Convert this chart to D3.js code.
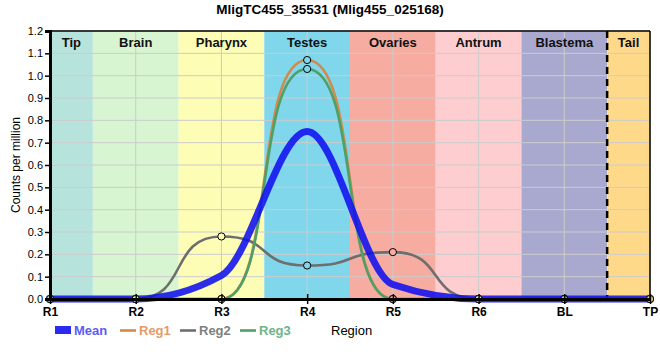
<!DOCTYPE html>
<html><head><meta charset="utf-8">
<script src="https://cdn.jsdelivr.net/npm/d3@7"></script>
<style>body{margin:0;background:#fff}svg{display:block}</style>
</head><body>
<svg id="c" width="660" height="360"></svg>
<script>
const categories = ["R1","R2","R3","R4","R5","R6","BL","TP"];
const bandNames = ["Tip","Brain","Pharynx","Testes","Ovaries","Antrum","Blastema","Tail"];
const bandColors = ["#b7e3dd","#d7f5d0","#fdfdb6","#80d6ea","#f6aca0","#fecdcf","#a9a9cf","#fed98a"];
const yTicks = [0,0.1,0.2,0.3,0.4,0.5,0.6,0.7,0.8,0.9,1.0,1.1,1.2];
const mean = [0,0,0.105,0.75,0.065,0,0,0];
const reg1 = [0,0,0,1.07,0,0,0,0];
const reg2 = [0,0,0.28,0.15,0.21,0,0,0];
const reg3 = [0,0,0,1.03,0,0,0,0];

const seriesDefs = [
  {name:"Reg1", values:reg1, color:"#cf8a4c", text:"#e59a68"},
  {name:"Reg2", values:reg2, color:"#6e6e6e", text:"#7f7f7f"},
  {name:"Reg3", values:reg3, color:"#4f9f68", text:"#6db487"}
];

const W=660,H=360, L=50, R=650, T=31, B=299;
const svg = d3.select("#c");
const x = d3.scalePoint().domain(categories).range([L,R]);
const y = d3.scaleLinear().domain([0,1.2]).range([B,T]);
const step = x.step();

// custom eased curve (horizontal handles)
function EaseCurve(ctx,k){this._ctx=ctx;this._k=k;}
EaseCurve.prototype = {
  areaStart(){this._line=0;}, areaEnd(){this._line=NaN;},
  lineStart(){this._p=0;}, lineEnd(){},
  point(px,py){
    px=+px;py=+py;
    if(!this._p){this._ctx.moveTo(px,py);this._p=1;}
    else{const dx=px-this._x0,k=this._k;
      this._ctx.bezierCurveTo(this._x0+k*dx,this._y0,px-k*dx,py,px,py);}
    this._x0=px;this._y0=py;
  }
};
const curveEase = k => ctx => new EaseCurve(ctx,k);

// bands
const g = svg.append("g");
bandNames.forEach((n,i)=>{
  const cx = x(categories[i]);
  const x0 = Math.max(L,cx-step/2), x1 = Math.min(R,cx+step/2);
  g.append("rect").attr("x",x0).attr("y",T).attr("width",x1-x0).attr("height",B-T).attr("fill",bandColors[i]);
});
// grid
yTicks.forEach(v=>{
  g.append("line").attr("x1",L).attr("x2",R).attr("y1",y(v)).attr("y2",y(v)).attr("stroke","#cccccc").attr("stroke-width",1);
});
categories.forEach(c=>{
  g.append("line").attr("x1",x(c)).attr("x2",x(c)).attr("y1",T).attr("y2",B).attr("stroke","#cccccc").attr("stroke-width",1);
});
// band labels
bandNames.forEach((n,i)=>{
  const cx = x(categories[i]);
  const x0 = Math.max(L,cx-step/2), x1 = Math.min(R,cx+step/2);
  g.append("text").attr("x",(x0+x1)/2).attr("y",47).attr("text-anchor","middle")
   .attr("font-family","Liberation Sans, Arial, sans-serif").attr("font-weight","bold").attr("font-size",13).attr("fill","#111").text(n);
});
// dashed separator between Blastema and Tail
const sepX = x("BL")+step/2;
g.append("line").attr("x1",sepX).attr("x2",sepX).attr("y1",T).attr("y2",B).attr("stroke","#000").attr("stroke-width",2.5).attr("stroke-dasharray","7,5");

// series lines
const lineE = d3.line().x((d,i)=>x(categories[i])).y(d=>y(d)).curve(curveEase(0.62));
seriesDefs.forEach(s=>{
  svg.append("path").attr("d",lineE(s.values)).attr("fill","none").attr("stroke",s.color).attr("stroke-width",2.6);
});
const lineM = d3.line().x((d,i)=>x(categories[i])).y(d=>y(d)).curve(d3.curveMonotoneX);
svg.append("path").attr("d",lineM(mean)).attr("fill","none").attr("stroke","#1010f0").attr("stroke-opacity",0.88).attr("stroke-width",7).attr("stroke-linecap","round");

// markers
seriesDefs.forEach(s=>{
  s.values.forEach((v,i)=>{
    svg.append("circle").attr("cx",x(categories[i])).attr("cy",y(v)).attr("r",3.6)
      .attr("fill",bandColors[i]).attr("stroke","#000").attr("stroke-width",1);
  });
});

// frame & axes
svg.append("line").attr("x1",L).attr("x2",R).attr("y1",T).attr("y2",T).attr("stroke","#000").attr("stroke-width",1.5);
svg.append("line").attr("x1",R).attr("x2",R).attr("y1",T).attr("y2",B).attr("stroke","#000").attr("stroke-width",1.5);

const yAxis = d3.axisLeft(y).tickValues(yTicks).tickFormat(d3.format(".1f")).tickSize(5).tickPadding(2);
const ya = svg.append("g").attr("transform",`translate(${L},0)`).call(yAxis);
ya.select(".domain").attr("stroke-width",3);
ya.selectAll("text").attr("font-family","Liberation Sans, Arial, sans-serif").attr("font-size",11).attr("fill","#000");
ya.selectAll(".tick line").attr("stroke-width",1.5);

const xAxis = d3.axisBottom(x).tickSize(5).tickPadding(3).tickSizeOuter(0);
const xa = svg.append("g").attr("transform",`translate(0,${B})`).call(xAxis);
xa.select(".domain").attr("stroke-width",3);
xa.selectAll("text").attr("font-family","Liberation Sans, Arial, sans-serif").attr("font-weight","bold").attr("font-size",12).attr("fill","#000");
xa.selectAll(".tick line").attr("stroke-width",1.5).attr("y1",-5);

// title
svg.append("text").attr("x",330).attr("y",14).attr("text-anchor","middle")
  .attr("font-family","Liberation Sans Narrow, Arial Narrow, sans-serif").attr("font-weight","bold").attr("font-size",13.5).attr("fill","#000")
  .text("MligTC455_35531 (Mlig455_025168)");
// y label
svg.append("text").attr("transform","translate(20,165) rotate(-90)").attr("text-anchor","middle")
  .attr("font-family","Liberation Sans, Arial, sans-serif").attr("font-size",12).attr("fill","#000").text("Counts per million");

// legend
const lg = svg.append("g").attr("font-family","Liberation Sans, Arial, sans-serif").attr("font-size",13).attr("font-weight","bold");
lg.append("rect").attr("x",55).attr("y",326).attr("width",16).attr("height",8).attr("fill","#2a2af0");
lg.append("text").attr("x",74).attr("y",335).attr("fill","#5b5bf5").text("Mean");
seriesDefs.forEach((s,i)=>{
  const lx = 120 + i*60;
  lg.append("line").attr("x1",lx).attr("x2",lx+16).attr("y1",330.5).attr("y2",330.5).attr("stroke",s.color).attr("stroke-width",2.6);
  lg.append("text").attr("x",lx+19).attr("y",335).attr("fill",s.text).text(s.name);
});
svg.append("text").attr("x",331).attr("y",335).attr("font-family","Liberation Sans, Arial, sans-serif").attr("font-size",13).attr("fill","#000").text("Region");
</script>
</body></html>
